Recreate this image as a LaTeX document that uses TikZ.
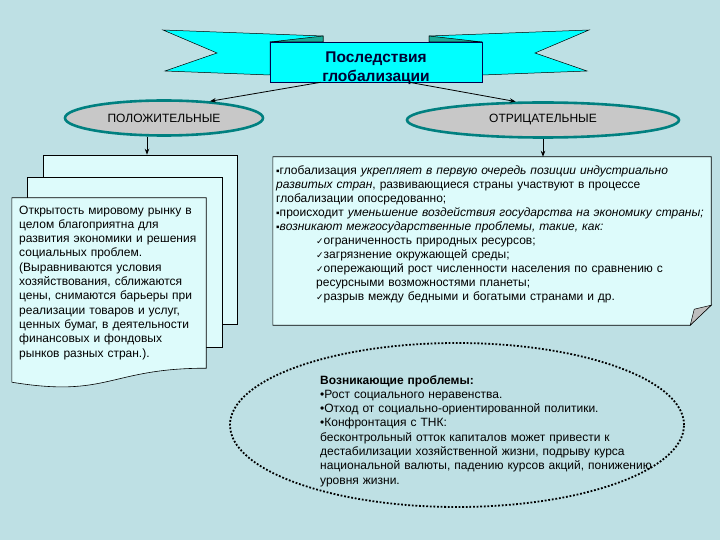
\documentclass[tikz,border=0pt]{standalone}
\usepackage{fontspec}
\setmainfont{Liberation Sans}
\newfontfamily\symfont{DejaVu Sans}
\usetikzlibrary{shapes.geometric,arrows.meta}

\definecolor{bgblue}{RGB}{190,224,228}
\definecolor{bandcyan}{RGB}{0,255,255}
\definecolor{foldteal}{RGB}{26,170,150}
\definecolor{ringteal}{RGB}{0,128,128}
\definecolor{ovalgray}{RGB}{200,200,200}
\definecolor{pagecyan}{RGB}{221,251,251}
\definecolor{curlgray}{RGB}{190,190,190}

\newcommand{\chk}{{\symfont\fontsize{9}{9}\selectfont ✓}}
\newcommand{\sqb}{{\fontsize{10}{10}\selectfont ▪}}

\begin{document}
\begin{tikzpicture}
  [x=1pt,y=-1pt,every node/.style={inner sep=0pt},
   oval/.style={ellipse,draw=ringteal,line width=2.6pt,fill=ovalgray,font=\fontsize{12}{14}\selectfont},
   page/.style={draw=black,line width=0.6pt,fill=pagecyan},
   txt/.style={anchor=north west,align=left,text width=#1,font=\fontsize{12}{14.3}\selectfont},
   arr/.style={-{Stealth[length=6pt,width=4.5pt]},line width=0.8pt}]
  \fill[bgblue] (0,0) rectangle (720,540);
  \useasboundingbox (0,0) rectangle (720,540);

  % banner
  \draw[fill=bandcyan,line width=0.5pt] (163,30) -- (323,36) -- (323,42) -- (270,42) -- (270,75) -- (165,71) -- (217,53) -- cycle;
  \draw[fill=bandcyan,line width=0.5pt] (589,30) -- (429,36) -- (429,42) -- (482,42) -- (482,75) -- (587,71) -- (535,53) -- cycle;
  \draw[fill=foldteal,line width=0.5pt] (270,42) -- (323,36) -- (323,42) -- cycle;
  \draw[fill=foldteal,line width=0.5pt] (482,42) -- (429,36) -- (429,42) -- cycle;
  \node[draw=black!70!blue,line width=0.6pt,fill=bandcyan,minimum width=212pt,minimum height=40pt] (title) at (376,62) {};
  \node[font=\bfseries\fontsize{15.5}{19}\selectfont,align=center,text=black!80!blue] (ttl) at (376,68) {Последствия\\глобализации};

  \node[oval,minimum width=198pt,minimum height=35pt] (pos) at (164,118) {ПОЛОЖИТЕЛЬНЫЕ};
  \node[oval,minimum width=272pt,minimum height=35pt] (neg) at (543,120) {ОТРИЦАТЕЛЬНЫЕ};

  \coordinate (ls) at ([xshift=51pt]title.south west);
  \coordinate (rs) at ([xshift=-73pt]title.south east);
  \foreach \from/\to in {ls/pos.20,rs/neg.146}
    \draw[arr] (\from) -- (\to);

  % left pages
  \node[page,minimum width=194pt,minimum height=169pt] (pg1) at (140,239.5) {};
  \node[page,minimum width=195pt,minimum height=170pt] (pg2) at (124.5,262) {};
  \node[minimum width=194pt,minimum height=170pt] (pg3) at (109,283) {};
  \draw[page] (pg3.north west) -- (pg3.north east) -- (pg3.south east)
    .. controls ([xshift=-97pt]pg3.south east) and ([xshift=97pt,yshift=-30pt]pg3.south west) .. ([yshift=-14pt]pg3.south west) -- cycle;
  \draw[arr] ([xshift=-17pt]pos.south) -- ([xshift=-17pt]pos.south |- pg1.north);

  \node[txt=190pt] (postxt) at (19,205.5) {Открытость мировому рынку в\\
    целом благоприятна для\\
    развития экономики и решения\\
    социальных проблем.\\
    (Выравниваются условия\\
    хозяйствования, сближаются\\
    цены, снимаются барьеры при\\
    реализации товаров и услуг,\\
    ценных бумаг, в деятельности\\
    финансовых и фондовых\\
    рынков разных стран.).};

  % right page
  \node[minimum width=438pt,minimum height=168pt] (negbox) at (492,241) {};
  \draw[page] (negbox.north west) -- (negbox.north east) -- ([yshift=20pt]negbox.south east)
    -- ([xshift=-21pt]negbox.south east) -- (negbox.south west) -- cycle;
  \draw[fill=curlgray,line width=0.5pt] ([yshift=20pt]negbox.south east) -- ([xshift=-17pt,yshift=16pt]negbox.south east) -- ([xshift=-21pt]negbox.south east) -- cycle;
  \draw[arr] (neg.south) -- (neg.south |- negbox.north);

  \node[txt=450pt,font=\fontsize{12}{13.9}\selectfont] (negtxt) at (276,166) {\sqb глобализация \textit{укрепляет в первую очередь позиции индустриально}\\
    \textit{развитых стран}, развивающиеся страны участвуют в процессе\\
    глобализации опосредованно;\\
    \sqb происходит \textit{уменьшение воздействия государства на экономику страны;}\\
    \sqb\textit{возникают межгосударственные проблемы, такие, как:}\\
    \hspace*{40pt}\chk ограниченность природных ресурсов;\\
    \hspace*{40pt}\chk загрязнение окружающей среды;\\
    \hspace*{40pt}\chk опережающий рост численности населения по сравнению с\\
    \hspace*{40pt}ресурсными возможностями планеты;\\
    \hspace*{40pt}\chk разрыв между бедными и богатыми странами и др.};

  % problems
  \node[ellipse,draw=black,line width=1.8pt,dash pattern=on 1.8pt off 1.8pt,minimum width=454pt,minimum height=164pt] (prob) at (457,425) {};
  \node[txt=360pt] (probtxt) at (320,375) {\textbf{Возникающие проблемы:}\\
    •Рост социального неравенства.\\
    •Отход от социально-ориентированной политики.\\
    •Конфронтация с ТНК:\\
    бесконтрольный отток капиталов может привести к\\
    дестабилизации хозяйственной жизни, подрыву курса\\
    национальной валюты, падению курсов акций, понижению\\
    уровня жизни.};

\end{tikzpicture}
\end{document}
